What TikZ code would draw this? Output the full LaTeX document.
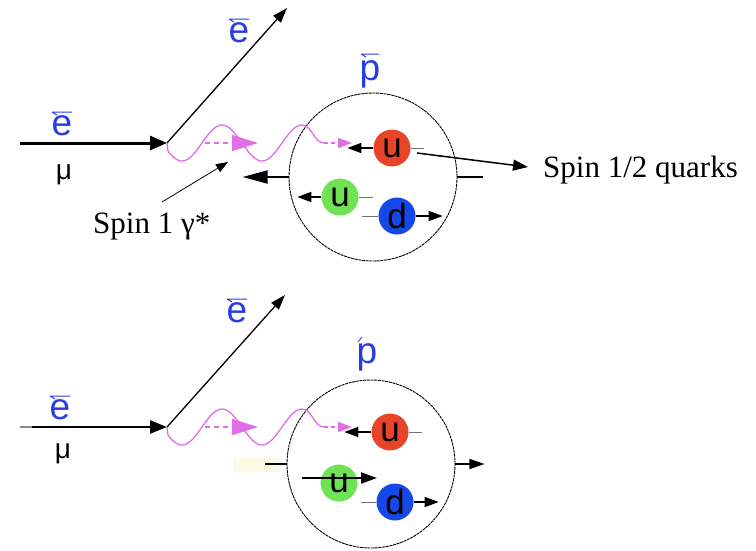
\documentclass[tikz,border=0pt]{standalone}
\usepackage{fontspec}
\setmainfont{Liberation Serif}
\newfontfamily\hv{Liberation Sans}
\usetikzlibrary{arrows.meta}
\definecolor{lblue}{RGB}{40,60,230}
\definecolor{pho}{RGB}{225,110,230}
\definecolor{qred}{RGB}{232,68,42}
\definecolor{qgreen}{RGB}{112,226,86}
\definecolor{qblue}{RGB}{22,72,232}
\definecolor{paley}{RGB}{252,250,226}
\newcommand\mywave{%
  \draw[photon] (0,0) -- plot[domain=1:135,samples=90] (\x,{18*sin(4.5*(\x+5))})
     .. controls (145,-18) and (147,0) .. (157,0);
  \draw[photon,dash pattern=on 4pt off 3pt,-{Triangle[length=14pt,width=10pt]}] (157,0) -- (185,0);
  \draw[photon,dash pattern=on 5pt off 4pt,-{Triangle[length=26pt,width=16pt]}] (38,0) -- (91,0);
}
\begin{document}
\begin{tikzpicture}[x=1pt,y=-1pt,
  lbl/.style={text=lblue,font=\hv\fontsize{37}{40}\selectfont,inner sep=0pt},
  mulbl/.style={font=\hv\fontsize{28}{32}\selectfont,inner sep=0pt},
  txt/.style={font=\fontsize{31}{36}\selectfont,inner sep=0pt,anchor=base west},
  quark/.style={circle,minimum size=37pt,inner sep=0pt,font=\hv\fontsize{35}{38}\selectfont},
  qarr/.style={line width=1.6pt,-{Triangle[length=14pt,width=10pt]}},
  stub/.style={line width=0.8pt,black!55},
  proton/.style={circle,draw,minimum size=168pt,inner sep=0pt,line width=0.9pt,dash pattern=on 3pt off 0.7pt},
  photon/.style={pho,line width=1.3pt},
  accent/.style={lblue,line width=1pt}]
\useasboundingbox (0,0) rectangle (756,550);

% ================= top diagram =================
\coordinate (V1) at (167,143);
\coordinate (in1) at (20,143);
\coordinate (out1) at (287,8);
\node[lbl] (e1) at (62,126) {e};
\node[mulbl] (mu1) at (64,175) {μ};
\node[lbl] (e2) at (239,33) {e};
\draw[accent] ([shift={(-10,-14)}]e1.center) -- ++(20,0) ([shift={(-10,-14)}]e1.center) -- ++(5,3);
\draw[accent] ([shift={(-10,-14)}]e2.center) -- ++(20,0) ([shift={(-10,-14)}]e2.center) -- ++(5,3);

\draw[line width=3pt,-{Triangle[length=17pt,width=14pt]}] (in1) -- (V1);
\draw[line width=1.3pt,-{Triangle[length=15pt,width=10pt]}] (V1) -- (out1);

\node[proton] (c1) at (373,177) {};
\node[lbl] (p1) at (370,74) {p};
\draw[accent] ([shift={(-9,-20)}]p1.center) -- ++(18,0) ([shift={(-9,-20)}]p1.center) -- ++(5,3);

\begin{scope}[shift={(V1)}]\mywave\end{scope}

\node[quark,fill=qred] (ru1) at (392,148) {u};
\node[quark,fill=qgreen] (gu1) at (340,197) {u};
\node[quark,fill=qblue] (bd1) at (397,216) {d};
\draw[qarr] (ru1.west) -- ++(-26,0);
\draw[stub] (ru1.east) -- ++(13,0);
\draw[qarr] (gu1.west) -- ++(-24,0);
\draw[stub] (gu1.east) -- ++(14,0);
\draw[stub] (bd1.west) -- ++(-16,0);
\draw[qarr] (bd1.east) -- ++(27,0);

\draw[line width=2pt,-{Triangle[length=25pt,width=13pt]}] (c1.west) -- ++(-46,0);
\draw[line width=1.2pt] (c1.east) -- ++(26,0);

\node[txt] (s12) at (543,177) {Spin 1/2 quarks};
\coordinate (s12from) at (417,153);
\coordinate (s12to) at (528,167);
\draw[line width=1.5pt,-{Triangle[length=15pt,width=11pt]}] (s12from) -- (s12to);

\node[txt] (s1) at (93,233) {Spin 1 γ*};
\coordinate (s1from) at (162,202);
\coordinate (s1to) at (228,162);
\draw[line width=0.8pt,-{Triangle[length=12pt,width=9pt]}] (s1from) -- (s1to);

% ================= bottom diagram =================
\coordinate (V2) at (167,427);
\coordinate (in2) at (20,427);
\coordinate (in2b) at (32,427);
\coordinate (out2) at (285,295);
\node[lbl] (e3) at (60,410) {e};
\node[mulbl] (mu2) at (63,454) {μ};
\node[lbl] (e4) at (237,313) {e};
\draw[accent] ([shift={(-10,-14)}]e3.center) -- ++(20,0) ([shift={(-10,-14)}]e3.center) -- ++(5,3);
\draw[accent] ([shift={(-10,-14)}]e4.center) -- ++(20,0) ([shift={(-10,-14)}]e4.center) -- ++(5,3);

\draw[line width=1.5pt,black!45] (in2) -- (in2b);
\draw[line width=2.5pt,-{Triangle[length=17pt,width=13pt]}] (in2b) -- (V2);
\draw[line width=1.3pt,-{Triangle[length=15pt,width=10pt]}] (V2) -- (out2);

\fill[paley] (233,458) rectangle (280,472);
\node[proton] (c2) at (371,464) {};
\node[lbl] (p2) at (367,357) {p};
\draw[lblue,line width=0.8pt] ([shift={(-9,-15)}]p2.center) -- ++(4,-5);

\begin{scope}[shift={(V2)}]\mywave\end{scope}

\node[quark,fill=qred] (ru2) at (390,432) {u};
\node[quark,fill=qgreen] (gu2) at (339,483) {u};
\node[quark,fill=qblue] (bd2) at (395,502) {d};
\draw[qarr] (ru2.west) -- ++(-27,0);
\draw[stub] (ru2.east) -- ++(13,0);
\draw[stub] (bd2.west) -- ++(-15,0);
\draw[qarr] (bd2.east) -- ++(25,0);
\coordinate (ga) at (302,478);
\coordinate (gb) at (377,478);
\draw[line width=2pt,-{Triangle[length=16pt,width=11pt]}] (ga) -- (gb);

\draw[line width=1.2pt] (c2.west) -- ++(-22,0);
\draw[line width=1.3pt,-{Triangle[length=15pt,width=10pt]}] (c2.east) -- ++(29,0);
\end{tikzpicture}
\end{document}
